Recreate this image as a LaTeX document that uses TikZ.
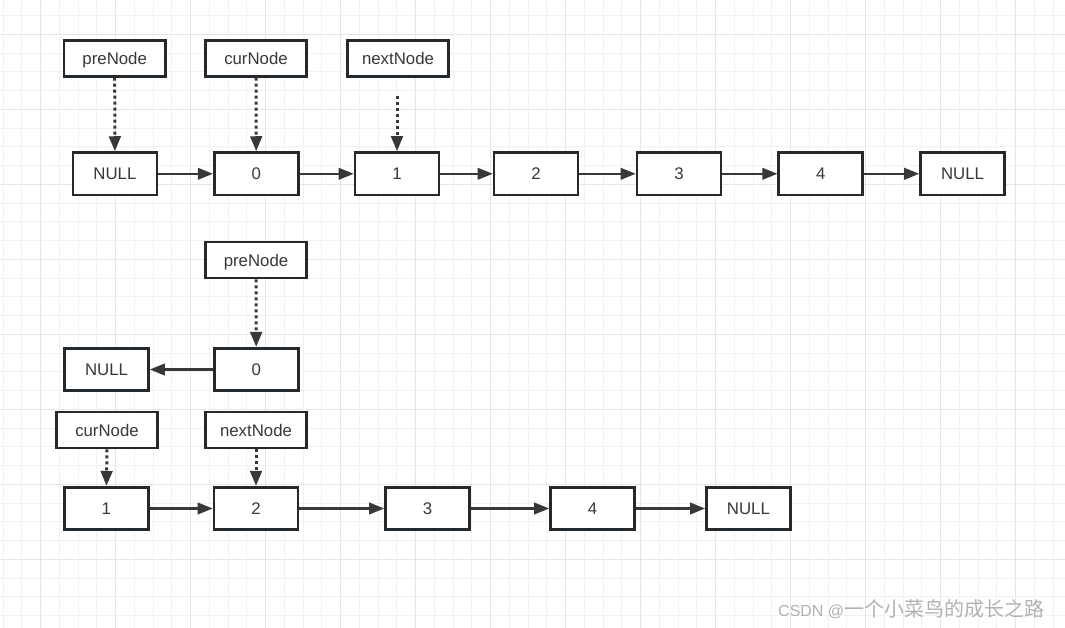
\documentclass[tikz,border=0pt]{standalone}
\usepackage{fontspec}
\setmainfont{Liberation Sans}
\newfontfamily\cjkfont{Noto Sans CJK SC}
\usetikzlibrary{arrows.meta,positioning}

\definecolor{boxline}{HTML}{24292D}
\definecolor{txtgray}{HTML}{383838}
\definecolor{gridminor}{HTML}{F1F1F1}
\definecolor{gridmajor}{HTML}{E6E6E6}

\begin{document}
\begin{tikzpicture}[x=1pt,y=-1pt,
    cell/.style={draw=boxline,line width=2.6pt,fill=white,minimum width=84pt,minimum height=42.5pt,
      inner sep=0pt,text height=12pt,text depth=0pt,text=txtgray,font=\fontsize{16.8}{19}\selectfont},
    tag/.style={cell,minimum width=101.5pt,minimum height=36pt},
    link/.style={-{Triangle[length=15pt,width=11.5pt]},line width=2.2pt,draw=txtgray},
    ptr/.style={link,line width=3pt,dash pattern=on 3pt off 3pt}]
    \useasboundingbox (0,0) rectangle (1065,628);
    \fill[white] (0,0) rectangle (1065,628);
    % background grid
    \foreach \gx in {0,...,56}{
      \draw[gridminor,line width=1pt] (3.2+18.75*\gx,0) -- (3.2+18.75*\gx,628);
    }
    \foreach \gy in {0,...,32}{
      \draw[gridminor,line width=1pt] (0,15.6+18.75*\gy) -- (1065,15.6+18.75*\gy);
    }
    \foreach \gx in {0,...,13}{
      \draw[gridmajor,line width=1pt] (40.7+75*\gx,0) -- (40.7+75*\gx,628);
    }
    \foreach \gy in {0,...,7}{
      \draw[gridmajor,line width=1pt] (0,34.3+75*\gy) -- (1065,34.3+75*\gy);
    }
    % first list: NULL 0 1 2 3 4 NULL
    \foreach \i/\cx/\txt in {0/114.9/NULL, 1/256.2/0, 2/397/1, 3/536/2, 4/679/3, 5/820.7/4, 6/962.5/NULL}{
      \node[cell] (top\i) at (\cx,173.8) {\txt};
    }
    \foreach \i [evaluate=\i as \j using int(\i+1)] in {0,...,5}{
      \draw[link] (top\i.east) -- (top\j.west);
    }
    % pointers above the first list
    \node[tag] (preA) at (114.7,58.3) {preNode};
    \node[tag] (curA) at (256,58.3) {curNode};
    \node[tag] (nextA) at (398,58.3) {nextNode};
    \coordinate (nextAstart) at (397,96);
    \draw[ptr] (preA.south) -- (top0.north);
    \draw[ptr] (curA.south) -- (top1.north);
    \draw[ptr] (nextAstart) -- (top2.north);
    % reversed part
    \node[tag] (preB) at (256,260) {preNode};
    \node[cell] (midzero) at (256.2,369.5) {0};
    \node[cell] (midnull) at (106.5,369.5) {NULL};
    \draw[ptr] (preB.south) -- (midzero.north);
    \draw[link] (midzero.west) -- (midnull.east);
    % remaining list: 1 2 3 4 NULL
    \foreach \i/\cx/\txt in {0/106.4/1, 1/256/2, 2/427.5/3, 3/592.5/4, 4/748.4/NULL}{
      \node[cell] (bot\i) at (\cx,508.5) {\txt};
    }
    \foreach \i [evaluate=\i as \j using int(\i+1)] in {0,...,3}{
      \draw[link] (bot\i.east) -- (bot\j.west);
    }
    \node[tag] (curB) at (107,430) {curNode};
    \node[tag] (nextB) at (256,430) {nextNode};
    \draw[ptr] (curB.south) -- (bot0.north);
    \draw[ptr] (nextB.south) -- (bot1.north);
    % watermark
    \node[anchor=base west,inner sep=0pt,text=gray!60] (mark) at (778,616)
      {{\fontsize{16}{18}\selectfont CSDN @}{\cjkfont\fontsize{20}{22}\selectfont 一个小菜鸟的成长之路}};
\end{tikzpicture}
\end{document}
